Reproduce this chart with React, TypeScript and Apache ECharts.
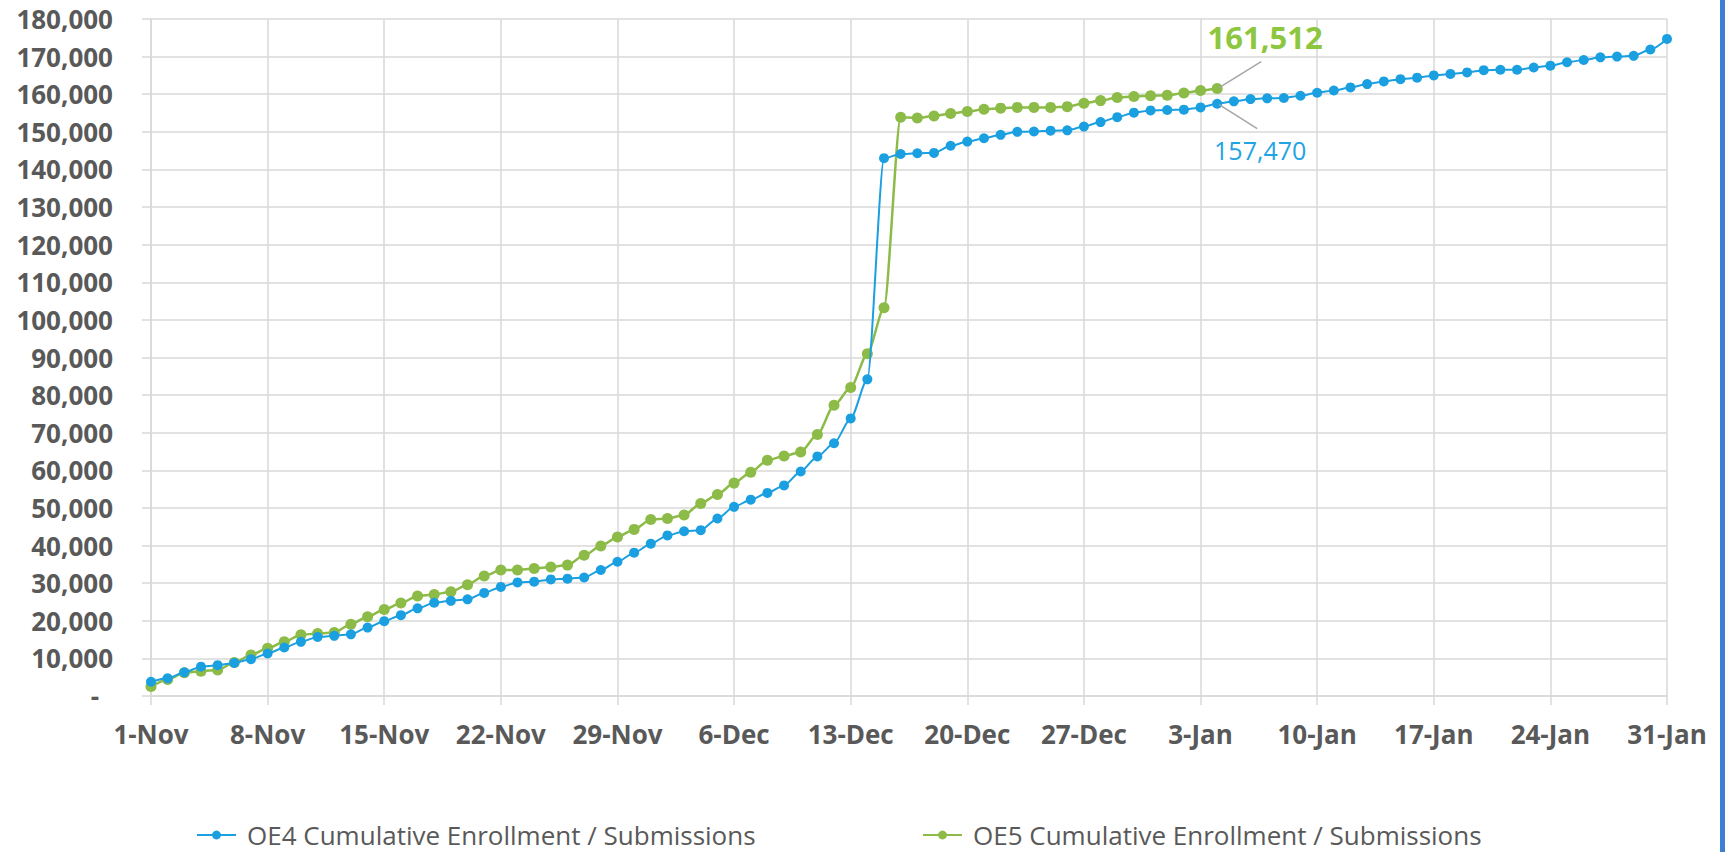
import React, { useEffect, useRef } from "react";
import * as echarts from "echarts";

const dates: string[] = [
  "1-Nov","2-Nov","3-Nov","4-Nov","5-Nov","6-Nov","7-Nov","8-Nov","9-Nov","10-Nov",
  "11-Nov","12-Nov","13-Nov","14-Nov","15-Nov","16-Nov","17-Nov","18-Nov","19-Nov","20-Nov",
  "21-Nov","22-Nov","23-Nov","24-Nov","25-Nov","26-Nov","27-Nov","28-Nov","29-Nov","30-Nov",
  "1-Dec","2-Dec","3-Dec","4-Dec","5-Dec","6-Dec","7-Dec","8-Dec","9-Dec","10-Dec",
  "11-Dec","12-Dec","13-Dec","14-Dec","15-Dec","16-Dec","17-Dec","18-Dec","19-Dec","20-Dec",
  "21-Dec","22-Dec","23-Dec","24-Dec","25-Dec","26-Dec","27-Dec","28-Dec","29-Dec","30-Dec",
  "31-Dec","1-Jan","2-Jan","3-Jan","4-Jan","5-Jan","6-Jan","7-Jan","8-Jan","9-Jan",
  "10-Jan","11-Jan","12-Jan","13-Jan","14-Jan","15-Jan","16-Jan","17-Jan","18-Jan","19-Jan",
  "20-Jan","21-Jan","22-Jan","23-Jan","24-Jan","25-Jan","26-Jan","27-Jan","28-Jan","29-Jan",
  "30-Jan","31-Jan",
];

const oe4Name = "OE4 Cumulative Enrollment / Submissions";
const oe5Name = "OE5 Cumulative Enrollment / Submissions";

const oe4Values: number[] = [
  3800, 4700, 6300, 7800, 8200, 8800, 9800, 11300, 12900, 14400,
  15700, 16000, 16400, 18200, 19900, 21500, 23300, 24800, 25300, 25700,
  27400, 29000, 30200, 30400, 31000, 31200, 31500, 33500, 35700, 38100,
  40500, 42700, 43800, 44100, 47200, 50300, 52200, 54000, 56000, 59700,
  63700, 67200, 73800, 84200, 143000, 144100, 144300, 144400, 146300, 147400,
  148300, 149200, 150000, 150100, 150300, 150400, 151400, 152600, 153900, 155100,
  155700, 155800, 155900, 156500, 157470, 158100, 158700, 158900, 159000, 159600,
  160400, 161000, 161800, 162700, 163400, 164000, 164400, 165000, 165400, 165800,
  166400, 166500, 166500, 167100, 167600, 168500, 169100, 169800, 170000, 170200,
  171900, 174700,
];

const oe5Values: number[] = [
  2500, 4400, 6200, 6600, 6900, 8900, 10900, 12700, 14400, 16300,
  16600, 16900, 19100, 21100, 23000, 24700, 26600, 27000, 27700, 29600,
  31900, 33500, 33500, 33900, 34300, 34800, 37400, 39900, 42300, 44300,
  46900, 47200, 48100, 51200, 53600, 56600, 59500, 62700, 63800, 64900,
  69500, 77300, 82000, 91000, 103200, 153900, 153700, 154200, 154900, 155400,
  156000, 156300, 156500, 156500, 156500, 156700, 157600, 158300, 159100, 159400,
  159600, 159700, 160300, 161000, 161512,
];

// annotated points (index into dates)
const oe4AnnotIndex = 64;
const oe5AnnotIndex = 64;

const blue = "#1a9fe0";
const green = "#8cbb48";
const gridColor = "#d9d9d9";
const labelColor = "#595959";
const font = "'Open Sans', 'Noto Sans', sans-serif";

const fmt = (v: number) => v.toLocaleString("en-US");

export default function App() {
  const ref = useRef<HTMLDivElement>(null);

  useEffect(() => {
    if (!ref.current) return;
    const chart = echarts.init(ref.current, null, { renderer: "svg" });

    const legendText = {
      color: labelColor,
      fontSize: 26,
      lineHeight: 26,
      fontFamily: font,
      padding: [0, 0, 0, 6],
    };

    const option: any = {
      animation: false,
      backgroundColor: "#ffffff",
      grid: { left: 151, right: 58, top: 19, bottom: 156, containLabel: false },
      legend: [
        {
          data: [oe4Name],
          left: 196,
          top: 822,
          padding: 0,
          itemWidth: 39,
          itemHeight: 11,
          textStyle: legendText,
        },
        {
          data: [oe5Name],
          left: 922,
          top: 822,
          padding: 0,
          itemWidth: 39,
          itemHeight: 11,
          textStyle: legendText,
        },
      ],
      xAxis: {
        type: "category",
        data: dates,
        boundaryGap: false,
        axisLine: { show: true, lineStyle: { color: gridColor, width: 1.5 } },
        axisTick: { show: true, interval: 6, length: 9, lineStyle: { color: gridColor, width: 1.5 } },
        axisLabel: {
          interval: 6,
          color: labelColor,
          fontWeight: "bold",
          fontSize: 26,
          fontFamily: font,
          margin: 25,
        },
        splitLine: { show: true, interval: 6, lineStyle: { color: gridColor, width: 1.5 } },
      },
      yAxis: {
        type: "value",
        min: 0,
        max: 180000,
        interval: 10000,
        axisLine: { show: true, lineStyle: { color: gridColor, width: 1.5 } },
        axisTick: { show: true, length: 9, lineStyle: { color: gridColor, width: 1.5 } },
        splitLine: { show: true, lineStyle: { color: gridColor, width: 1.5 } },
        axisLabel: {
          color: labelColor,
          fontWeight: "bold",
          fontSize: 26,
          fontFamily: font,
          margin: 38,
          formatter: (v: number) => (v === 0 ? "{d|-}" : fmt(v)),
          rich: {
            d: {
              color: labelColor,
              fontWeight: "bold",
              fontSize: 26,
              fontFamily: font,
              padding: [0, 14, 0, 0],
            },
          },
        },
      },
      series: [
        {
          name: oe4Name,
          type: "line",
          data: oe4Values,
          smooth: 0.25,
          smoothMonotone: "x",
          symbol: "circle",
          symbolSize: 10,
          showAllSymbol: true,
          itemStyle: { color: blue },
          lineStyle: { color: blue, width: 2 },
          z: 3,
        },
        {
          name: oe5Name,
          type: "line",
          data: oe5Values,
          smooth: 0.25,
          smoothMonotone: "x",
          symbol: "circle",
          symbolSize: 11,
          showAllSymbol: true,
          itemStyle: { color: green },
          lineStyle: { color: green, width: 2.5 },
          z: 2,
        },
      ],
    };

    chart.setOption(option);

    const g = chart.convertToPixel({ gridIndex: 0 }, [oe5AnnotIndex, oe5Values[oe5AnnotIndex]]) as number[];
    const b = chart.convertToPixel({ gridIndex: 0 }, [oe4AnnotIndex, oe4Values[oe4AnnotIndex]]) as number[];

    chart.setOption({
      graphic: [
        {
          type: "line",
          shape: { x1: g[0] + 2, y1: g[1] - 1, x2: g[0] + 44, y2: g[1] - 27 },
          style: { stroke: "#a6a6a6", lineWidth: 1.5 },
          z: 10,
        },
        {
          type: "text",
          x: g[0] + 48,
          y: g[1] - 52,
          style: {
            text: fmt(oe5Values[oe5AnnotIndex]),
            fill: "#8dc63f",
            font: `bold 31px ${font}`,
            align: "center",
            verticalAlign: "middle",
          },
          z: 10,
        },
        {
          type: "line",
          shape: { x1: b[0] + 2, y1: b[1] + 1, x2: b[0] + 40, y2: b[1] + 25 },
          style: { stroke: "#a6a6a6", lineWidth: 1.5 },
          z: 10,
        },
        {
          type: "text",
          x: b[0] + 43,
          y: b[1] + 46,
          style: {
            text: fmt(oe4Values[oe4AnnotIndex]),
            fill: "#22a3e2",
            font: `25px ${font}`,
            align: "center",
            verticalAlign: "middle",
          },
          z: 10,
        },
        {
          type: "rect",
          shape: { x: 1720, y: 0, width: 5, height: 852 },
          style: { fill: "#3d7fd2" },
          z: 10,
        },
      ],
    });

    return () => chart.dispose();
  }, []);

  return (
    <div
      ref={ref}
      style={{ position: "fixed", left: 0, top: 0, width: "1725px", height: "852px", background: "#fff" }}
    />
  );
}
